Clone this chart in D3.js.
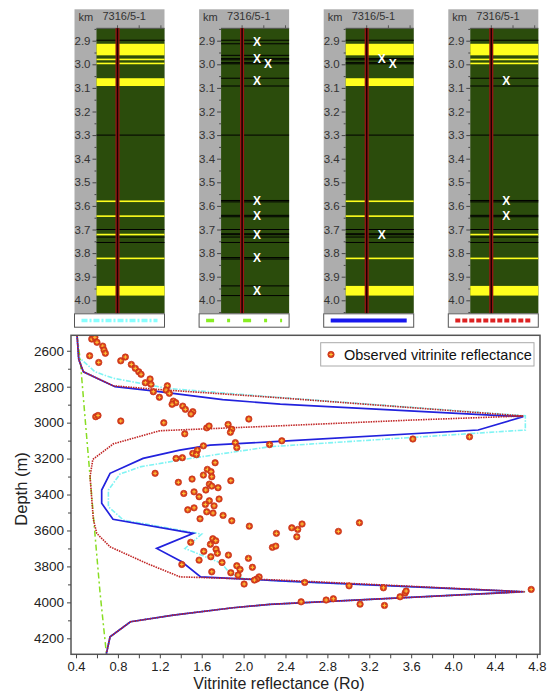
<!DOCTYPE html>
<html>
<head>
<meta charset="utf-8">
<title>Vitrinite reflectance - 7316/5-1</title>
<script src="https://d3js.org/d3.v7.min.js"></script>
<style>
 body { margin: 0; background: #fff; }
 svg text { font-family: Arial, "Liberation Sans", sans-serif; }
</style>
</head>
<body>
<svg id="chart" width="549" height="691"></svg>
<script>
// ---- top panels: well log strips ----
var wellName = "7316/5-1";
var kmTicks = [2.9, 3.0, 3.1, 3.2, 3.3, 3.4, 3.5, 3.6, 3.7, 3.8, 3.9, 4.0];
var layerTop  = [2.913, 2.976, 2.993, 3.059, 3.577, 3.640, 3.718, 3.819, 3.939];
var layerBase = [2.962, 2.981, 2.998, 3.092, 3.583, 3.646, 3.722, 3.825, 3.980];
var layerShown = [
  [1, 1, 1, 1, 1, 1, 1, 1, 1],
  [0, 0, 0, 0, 0, 0, 0, 0, 0],
  [1, 0, 0, 1, 1, 1, 0, 1, 1],
  [1, 1, 1, 0, 0, 0, 1, 1, 1]
];
var extraLines = [2.898, 3.30, 3.70, 3.732, 3.755];
var missDepth = [
  [],
  [2.905, 2.978, 2.998, 3.068, 3.578, 3.643, 3.72, 3.82, 3.958],
  [2.978, 2.998, 3.72],
  [3.068, 3.578, 3.643]
];

// ---- bottom chart: modelled curves [Ro, depth m] ----
var cyanCurve = [[0.41,2515],[0.42,2600],[0.422,2633],[0.581,2717],[0.756,2753],[1.266,2809],[2.253,2856],[4.69,2962],
  [4.69,3041],[2.25,3134],[1.711,3180],[1.393,3208],[1.011,3246],[0.82,3286],[0.709,3375],[0.709,3468],[0.852,3542],
  [1.6,3620],[1.44,3700],[1.79,3783],[1.87,3839],[2.0,3867],[2.35,3882],[4.69,3941],
  [2.25,4011],[1.9,4030],[1.33,4071],[0.92,4108],[0.725,4192],[0.69,4285]];
var greenCurve = [[0.41,2515],[0.44,2650],[0.49,3000],[0.534,3300],[0.58,3616],[0.63,3950],[0.69,4285]];
var blueCurve = [[0.41,2515],[0.42,2600],[0.426,2648],[0.47,2717],[0.772,2800],[1.135,2823],[1.8,2872],[2.35,2897],[4.67,2967],
  [4.24,3041],[2.25,3107],[1.68,3125],[1.39,3153],[1.04,3199],[0.725,3282],[0.645,3375],[0.645,3449],[0.753,3538],
  [1.52,3616],[1.17,3700],[1.41,3774],[1.59,3858],[2.35,3880],[4.67,3941],
  [2.25,4011],[1.9,4030],[1.33,4071],[0.92,4108],[0.725,4192],[0.69,4285]];
var redCurve = [[0.41,2515],[0.42,2600],[0.426,2648],[0.47,2717],[0.756,2795],[1.17,2815],[2.3,2860],[4.67,2963],
  [3.59,2986],[2.25,3020],[1.2,3045],[0.756,3118],[0.56,3205],[0.534,3301],[0.565,3538],[0.598,3616],[0.725,3691],
  [1.075,3783],[1.393,3858],[2.35,3876],[4.69,3941],
  [2.25,4011],[1.9,4030],[1.33,4071],[0.92,4108],[0.725,4192],[0.69,4285]];

// ---- observed vitrinite reflectance ----
var obsRo = [0.55,0.58,0.60,0.53,0.655,0.667,0.68,0.617,0.827,0.871,0.928,0.966,0.999,1.021,1.107,1.062,1.116,1.272,1.26,1.138,
  1.291,1.196,1.329,1.352,1.317,1.419,1.444,1.515,1.498,0.588,0.61,0.827,1.238,1.438,1.648,1.67,1.852,1.887,1.874,2.05,
  1.616,1.559,1.515,1.549,1.415,1.355,1.921,1.935,2.248,1.155,1.728,1.654,1.689,1.616,1.696,1.508,1.377,1.878,1.673,1.696,
  1.756,1.639,1.527,1.429,1.575,1.766,1.673,1.635,1.718,1.527,1.467,1.648,1.708,1.804,1.584,1.887,2.055,2.313,1.706,1.734,
  1.495,1.683,1.737,1.75,1.62,2.275,2.307,1.855,1.687,2.046,1.575,1.794,1.41,1.935,1.966,2.084,1.696,1.878,1.947,2.148,
  2.126,2.103,2.005,2.46,2.517,2.558,2.508,2.905,3.106,2.584,3.007,3.335,2.549,2.788,2.857,3.112,3.345,3.494,3.542,3.552,
  4.746,2.365,3.616,4.157];
var obsDepth = [2535,2525,2553,2628,2574,2596,2614,2665,2656,2635,2676,2698,2717,2731,2757,2778,2787,2795,2819,2828,
  2837,2859,2880,2889,2898,2908,2926,2939,2952,2967,2960,2991,3001,3062,3029,3019,3010,3037,3054,2980,
  3129,3153,3171,3178,3195,3199,3111,3139,3122,3282,3223,3260,3273,3292,3301,3314,3332,3323,3342,3353,
  3362,3375,3385,3394,3412,3425,3435,3455,3463,3474,3485,3496,3503,3516,3535,3546,3576,3616,3646,3657,
  3666,3677,3704,3727,3716,3694,3687,3737,3746,3755,3765,3778,3789,3796,3817,3805,3830,3835,3848,3858,
  3870,3876,3898,3585,3594,3564,3635,3605,3557,3889,3908,3919,3997,3987,3980,4010,4017,3969,3948,3937,
  3928,3101,3091,3079];
var roTicks = [0.4, 0.8, 1.2, 1.6, 2.0, 2.4, 2.8, 3.2, 3.6, 4.0, 4.4, 4.8];
var depthTicks = [2600, 2800, 3000, 3200, 3400, 3600, 3800, 4000, 4200];
var legendLabel = "Observed vitrinite reflectance";

var svg = d3.select("#chart");

// ================= top strips =================
var colW = 22, stripW = 68;
var panelX = d3.scaleLinear().domain([0, 3]).range([74.5, 448.3]);
var kmY = d3.scaleLinear().domain([3.0, 4.0]).range([64.3, 300.3]);
var stripTop = 28.3, stripBot = 313.3;
var styles = [
  {stroke: "#88ffff", dash: "6,2,2,2", w: 3.5},
  {stroke: "#88ee22", dash: "8,13,3,13", w: 3.5},
  {stroke: "#1818ee", dash: null, w: 4},
  {stroke: "#dd2222", dash: "5,2", w: 4}
];

d3.range(4).forEach(function(p) {
  var x0 = panelX(p), gx = x0 + colW, wellX = gx + 21;
  var g = svg.append("g");
  // gray header + depth column
  g.append("rect").attr("x", x0).attr("y", 9.3).attr("width", colW + stripW).attr("height", stripBot - 9.3)
   .attr("fill", "#adadad");
  g.append("text").attr("x", x0 + 4).attr("y", 21).attr("font-size", 11).attr("fill", "#333").text("km");
  g.append("text").attr("x", gx + 6).attr("y", 20).attr("font-size", 11).attr("fill", "#333").text(wellName);
  // green strip
  g.append("rect").attr("x", gx).attr("y", stripTop).attr("width", stripW).attr("height", stripBot - stripTop)
   .attr("fill", "#2b4c0c");
  // header ticks
  g.append("line").attr("x1", gx).attr("x2", gx + stripW).attr("y1", stripTop).attr("y2", stripTop)
   .attr("stroke", "#555").attr("stroke-width", 1);
  [0, 1, 2].forEach(function(k) {
    g.append("line").attr("x1", wellX + k * 21.7).attr("x2", wellX + k * 21.7)
     .attr("y1", stripTop - 3).attr("y2", stripTop).attr("stroke", "#555");
  });
  // extra thin black lines
  extraLines.forEach(function(d) {
    g.append("line").attr("x1", gx).attr("x2", gx + stripW).attr("y1", kmY(d)).attr("y2", kmY(d))
     .attr("stroke", "#000").attr("stroke-width", 1);
  });
  // sand layers
  layerTop.forEach(function(t, i) {
    var b = layerBase[i];
    if (layerShown[p][i]) {
      var h = Math.max(kmY(b) - kmY(t), 1.6);
      g.append("rect").attr("x", gx).attr("y", kmY(t)).attr("width", stripW).attr("height", h)
       .attr("fill", "#ffff1e");
    } else {
      [t, b].forEach(function(d) {
        g.append("line").attr("x1", gx).attr("x2", gx + stripW).attr("y1", kmY(d)).attr("y2", kmY(d))
         .attr("stroke", "#000").attr("stroke-width", 1);
      });
    }
  });
  // well line
  g.append("line").attr("x1", wellX).attr("x2", wellX).attr("y1", stripTop).attr("y2", stripBot)
   .attr("stroke", "#a01515").attr("stroke-width", 4);
  g.append("line").attr("x1", wellX).attr("x2", wellX).attr("y1", stripTop).attr("y2", stripBot)
   .attr("stroke", "#1a0000").attr("stroke-width", 1.6);
  // depth axis
  var ax = g.append("g").attr("transform", "translate(" + gx + ",0)")
    .call(d3.axisLeft(kmY).tickValues(kmTicks).tickSize(4).tickPadding(2).tickFormat(d3.format(".1f")));
  ax.select(".domain").remove();
  ax.selectAll("line").attr("stroke", "#444");
  ax.selectAll("text").attr("font-size", 11.5).attr("fill", "#333").style("font-family", "Arial, 'Liberation Sans', sans-serif");
  var axm = g.append("g").attr("transform", "translate(" + gx + ",0)")
    .call(d3.axisLeft(kmY).tickValues(d3.range(2.85, 4.06, 0.1)).tickSize(2).tickFormat(""));
  axm.select(".domain").remove();
  axm.selectAll("line").attr("stroke", "#444");
  // missing-layer markers
  missDepth[p].forEach(function(d, i) {
    var prev = missDepth[p][i - 1];
    var dx = (prev !== undefined && d - prev < 0.03) ? 11 : 0;
    g.append("text").attr("x", gx + 36 + dx).attr("y", kmY(d)).attr("dy", "0.36em")
     .attr("text-anchor", "middle").attr("font-size", 12).attr("font-weight", "bold").attr("fill", "#fff").text("X");
  });
  // legend box under strip
  g.append("rect").attr("x", x0).attr("y", 313.8).attr("width", colW + stripW).attr("height", 13.4)
   .attr("fill", "#fff").attr("stroke", "#555").attr("stroke-width", 1);
  var st = styles[p];
  g.append("line").attr("x1", x0 + 7).attr("x2", x0 + colW + stripW - 7).attr("y1", 320.5).attr("y2", 320.5)
   .attr("stroke", st.stroke).attr("stroke-width", st.w).attr("stroke-dasharray", st.dash);
});

// ================= bottom chart =================
var x = d3.scaleLinear().domain([0.352, 4.83]).range([71, 540]);
var y = d3.scaleLinear().domain([2514, 4289]).range([335.3, 654.3]);

svg.append("defs").append("clipPath").attr("id", "plotclip").append("rect")
  .attr("x", 71).attr("y", 335.3).attr("width", 469).attr("height", 319);

var plot = svg.append("g").attr("clip-path", "url(#plotclip)");
var line = d3.line().x(function(d) { return x(d[0]); }).y(function(d) { return y(d[1]); });

plot.append("path").datum(greenCurve).attr("d", line).attr("fill", "none")
  .attr("stroke", "#88dd22").attr("stroke-width", 1.5).attr("stroke-dasharray", "6,3,2,3");
plot.append("path").datum(cyanCurve).attr("d", line).attr("fill", "none")
  .attr("stroke", "#80f4f4").attr("stroke-width", 1.6).attr("stroke-dasharray", "5,1.5,1.5,1.5");
plot.append("path").datum(blueCurve).attr("d", line).attr("fill", "none")
  .attr("stroke", "#2222dd").attr("stroke-width", 1.7);
plot.append("path").datum(redCurve).attr("d", line).attr("fill", "none")
  .attr("stroke", "#c02424").attr("stroke-width", 1.6).attr("stroke-dasharray", "1.5,1");

function obsMarker(sel) {
  sel.append("circle").attr("r", 3.2).attr("fill", "#d9401c").attr("stroke", "#c53018").attr("stroke-width", 0.7);
  sel.append("path").attr("d", "M-1.8,0H1.8M0,-1.8V1.8").attr("stroke", "#ffc838").attr("stroke-width", 1);
}
var pts = d3.range(Math.min(obsRo.length, obsDepth.length));
plot.selectAll(".obs").data(pts).enter().append("g").attr("class", "obs")
  .attr("transform", function(i) { return "translate(" + x(obsRo[i]) + "," + y(obsDepth[i]) + ")"; })
  .each(function() { obsMarker(d3.select(this)); });

// frame
svg.append("rect").attr("x", 71).attr("y", 335.3).attr("width", 469).attr("height", 319)
  .attr("fill", "none").attr("stroke", "#555").attr("stroke-width", 1.5);

// axes
function styleAxis(a) {
  a.select(".domain").remove();
  a.selectAll("line").attr("stroke", "#444");
  a.selectAll("text").attr("font-size", 13.5).attr("fill", "#222").style("font-family", "Arial, 'Liberation Sans', sans-serif");
}
var ya = svg.append("g").attr("transform", "translate(71,0)")
  .call(d3.axisLeft(y).tickValues(depthTicks).tickSize(4).tickPadding(3).tickFormat(d3.format("d")));
styleAxis(ya);
var ym = svg.append("g").attr("transform", "translate(71,0)")
  .call(d3.axisLeft(y).tickValues(d3.range(2700, 4300, 200)).tickSize(3).tickFormat(""));
styleAxis(ym);
var xa = svg.append("g").attr("transform", "translate(0,654.3)")
  .call(d3.axisBottom(x).tickValues(roTicks).tickSize(4).tickPadding(3).tickFormat(d3.format(".1f")));
styleAxis(xa);
xa.selectAll("text").attr("font-size", 13);
var xm = svg.append("g").attr("transform", "translate(0,654.3)")
  .call(d3.axisBottom(x).tickValues(d3.range(0.6, 4.8, 0.4)).tickSize(4).tickFormat(""));
styleAxis(xm);

svg.append("text").attr("x", 279).attr("y", 689).attr("text-anchor", "middle")
  .attr("font-size", 16).attr("fill", "#222").text("Vitrinite reflectance (Ro)");
svg.append("text").attr("transform", "translate(27,489) rotate(-90)").attr("text-anchor", "middle")
  .attr("font-size", 16.5).attr("fill", "#222").text("Depth (m)");

// legend
var lg = svg.append("g");
lg.append("rect").attr("x", 320.7).attr("y", 342.7).attr("width", 213.3).attr("height", 23.3)
  .attr("fill", "#fff").attr("stroke", "#aaa").attr("stroke-width", 1);
obsMarker(lg.append("g").attr("transform", "translate(331,354.5)"));
lg.append("text").attr("x", 344).attr("y", 359.5).attr("font-size", 14.5).attr("fill", "#111").text(legendLabel);
</script>
</body>
</html>
